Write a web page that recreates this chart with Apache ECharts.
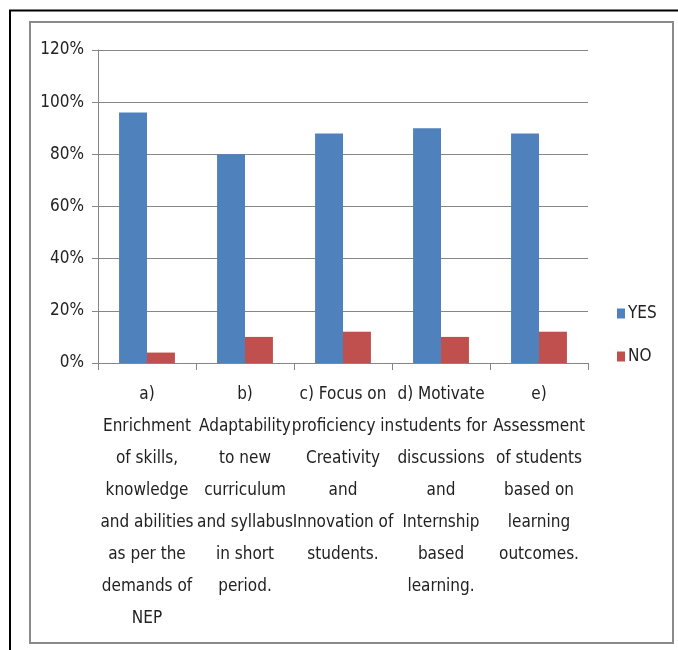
<!DOCTYPE html>
<html>
<head>
<meta charset="utf-8">
<script src="https://cdn.jsdelivr.net/npm/echarts@6/dist/echarts.min.js"></script>
<style>
  html, body { margin: 0; padding: 0; background: #fff; }
  #chart { width: 678px; height: 650px; }
</style>
</head>
<body>
<div id="chart"></div>
<script>
// Survey responses (percent) per statement
const categories = [
  'a)\nEnrichment\nof skills,\nknowledge\nand abilities\nas per the\ndemands of\nNEP',
  'b)\nAdaptability\nto new\ncurriculum\nand syllabus\nin short\nperiod.',
  'c) Focus on\nproficiency in\nCreativity\nand\nInnovation of\nstudents.',
  'd) Motivate\nstudents for\ndiscussions\nand\nInternship\nbased\nlearning.',
  'e)\nAssessment\nof students\nbased on\nlearning\noutcomes.'
];
const yesValues = [96, 80, 88, 90, 88];
const noValues = [4, 10, 12, 10, 12];
const yTicks = [0, 20, 40, 60, 80, 100, 120];

const FONT = '"Liberation Sans Narrow", "DejaVu Sans Condensed", "Liberation Sans", sans-serif';
const TEXT = '#222';
const AXIS = '#868686';

const chart = echarts.init(document.getElementById('chart'), null, { renderer: 'canvas' });
chart.setOption({
  animation: false,
  backgroundColor: '#fff',
  graphic: [
    // outer frame
    { type: 'polyline', shape: { points: [[10, 650], [10, 10.5], [678, 10.5]] },
      style: { stroke: '#000', lineWidth: 2, fill: null } },
    // inner chart-area frame
    { type: 'rect', shape: { x: 30, y: 22, width: 643, height: 621 },
      style: { stroke: '#8a8a8a', lineWidth: 2, fill: null } }
  ],
  grid: { left: 98, right: 90, top: 50, bottom: 287, containLabel: false },
  legend: {
    orient: 'vertical',
    left: 612,
    top: 300,
    itemWidth: 8,
    itemHeight: 10,
    itemGap: 26,
    icon: 'rect',
    textStyle: { fontFamily: FONT, fontSize: 17, color: TEXT, padding: [0, 0, 0, -2] },
    data: ['YES', 'NO']
  },
  xAxis: {
    type: 'category',
    data: categories,
    axisLine: { lineStyle: { color: AXIS, width: 1 } },
    axisTick: { show: true, length: 7, lineStyle: { color: AXIS } },
    axisLabel: {
      interval: 0,
      margin: 16,
      fontFamily: FONT,
      fontSize: 17,
      lineHeight: 32,
      color: TEXT,
      align: 'center'
    }
  },
  yAxis: {
    type: 'value',
    min: 0,
    max: 120,
    interval: 20,
    axisLine: { show: true, lineStyle: { color: AXIS, width: 1 } },
    axisTick: { show: true, length: 6, lineStyle: { color: AXIS } },
    splitLine: { lineStyle: { color: AXIS, width: 1 } },
    axisLabel: {
      margin: 14,
      fontFamily: FONT,
      fontSize: 17,
      color: TEXT,
      formatter: v => yTicks.includes(v) ? v + '%' : ''
    }
  },
  series: [
    { name: 'YES', type: 'bar', data: yesValues, itemStyle: { color: '#4F81BD' },
      barGap: '0%', barCategoryGap: '43%' },
    { name: 'NO', type: 'bar', data: noValues, itemStyle: { color: '#C0504D' },
      barGap: '0%', barCategoryGap: '43%' }
  ]
});
</script>
</body>
</html>
